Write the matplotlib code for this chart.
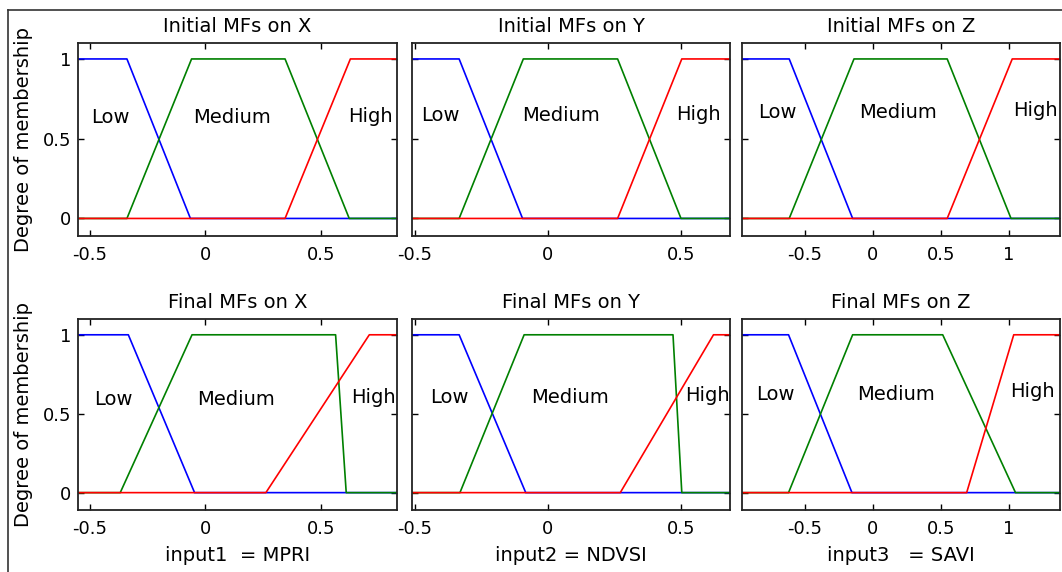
import matplotlib
matplotlib.use("Agg")
import matplotlib.pyplot as plt
from matplotlib.lines import Line2D

plt.rcParams['font.family'] = ['DejaVu Sans']
plt.rcParams['axes.unicode_minus'] = False

# panel titles, row by row
titles = ["Initial MFs on X", "Initial MFs on Y", "Initial MFs on Z",
          "Final MFs on X", "Final MFs on Y", "Final MFs on Z"]
xlabels = ["input1  = MPRI", "input2 = NDVSI", "input3   = SAVI"]

# x limits per column
xlims = [(-0.552, 0.83), (-0.51, 0.684), (-0.96, 1.377)]
xticks = [[-0.5, 0, 0.5], [-0.5, 0, 0.5], [-0.5, 0, 0.5, 1]]

# trapezoid breakpoints: low (shoulder end, foot), medium (a, b, c, d), high (foot, shoulder)
low_mf = [(-0.34, -0.065), (-0.333, -0.095), (-0.613, -0.147),
          (-0.334, -0.047), (-0.333, -0.083), (-0.618, -0.152)]
medium_mf = [(-0.34, -0.06, 0.345, 0.623), (-0.333, -0.092, 0.262, 0.50),
             (-0.613, -0.137, 0.548, 1.017), (-0.369, -0.058, 0.564, 0.61),
             (-0.33, -0.089, 0.47, 0.503), (-0.618, -0.147, 0.515, 1.05)]
high_mf = [(0.345, 0.628), (0.262, 0.503), (0.548, 1.026),
           (0.262, 0.71), (0.272, 0.622), (0.691, 1.037)]

# label positions (x, y) for Low, Medium, High
low_pos = [(-0.41, 0.63), (-0.402, 0.643), (-0.70, 0.665),
           (-0.397, 0.592), (-0.37, 0.605), (-0.713, 0.624)]
med_pos = [(0.116, 0.63), (0.049, 0.643), (0.19, 0.665),
           (0.131, 0.59), (0.084, 0.605), (0.172, 0.624)]
high_pos = [(0.714, 0.64), (0.565, 0.65), (1.193, 0.675),
            (0.727, 0.605), (0.598, 0.613), (1.176, 0.64)]

W, H = 1062, 572
fig = plt.figure(figsize=(W / 100, H / 100), dpi=100)

cols_px = [(78, 397), (412, 730), (742, 1060)]
rows_px = [(43, 236), (319, 510)]

for i in range(6):
    r, c = divmod(i, 3)
    x0, x1 = cols_px[c]
    y0, y1 = rows_px[r]
    ax = fig.add_axes([x0 / W, 1 - y1 / H, (x1 - x0) / W, (y1 - y0) / H])
    xmin, xmax = xlims[c]

    a, b = low_mf[i]
    ax.plot([xmin, a, b, xmax], [1, 1, 0, 0], color="#0000ff", lw=1.2)
    a, b, cc, d = medium_mf[i]
    ax.plot([xmin, a, b, cc, d, xmax], [0, 0, 1, 1, 0, 0], color="#008000", lw=1.2)
    a, b = high_mf[i]
    ax.plot([xmin, a, b, xmax], [0, 0, 1, 1], color="#ff0000", lw=1.2)

    for name, (tx, ty) in zip(["Low", "Medium", "High"], [low_pos[i], med_pos[i], high_pos[i]]):
        ax.text(tx, ty, name, ha="center", va="center", fontsize=14)

    ax.set_xlim(xmin, xmax)
    ax.set_ylim(-0.11, 1.1)
    ax.set_xticks(xticks[c])
    ax.set_xticklabels([f"{t:g}" for t in xticks[c]], fontsize=13)
    ax.set_yticks([0, 0.5, 1])
    if c == 0:
        ax.set_yticklabels(["0", "0.5", "1"], fontsize=13)
        ax.set_ylabel("Degree of membership", fontsize=14, labelpad=7)
    else:
        ax.set_yticklabels([])
    ax.tick_params(direction="in", length=4, width=1, top=True, right=True)
    ax.tick_params(axis="x", pad=7)
    ax.tick_params(axis="y", pad=5)
    for sp in ax.spines.values():
        sp.set_linewidth(1.3)
        sp.set_color("#222222")
    ax.set_title(titles[i], fontsize=14, pad=8)
    if r == 1:
        ax.set_xlabel(xlabels[c], fontsize=14, labelpad=6)

# outer frame lines (top and left)
fig.add_artist(Line2D([8 / W, 1], [1 - 10 / H, 1 - 10 / H], color="#333333", lw=1.2))
fig.add_artist(Line2D([8 / W, 8 / W], [0, 1 - 10 / H], color="#333333", lw=1.2))

fig.savefig("out.png", dpi=100)
